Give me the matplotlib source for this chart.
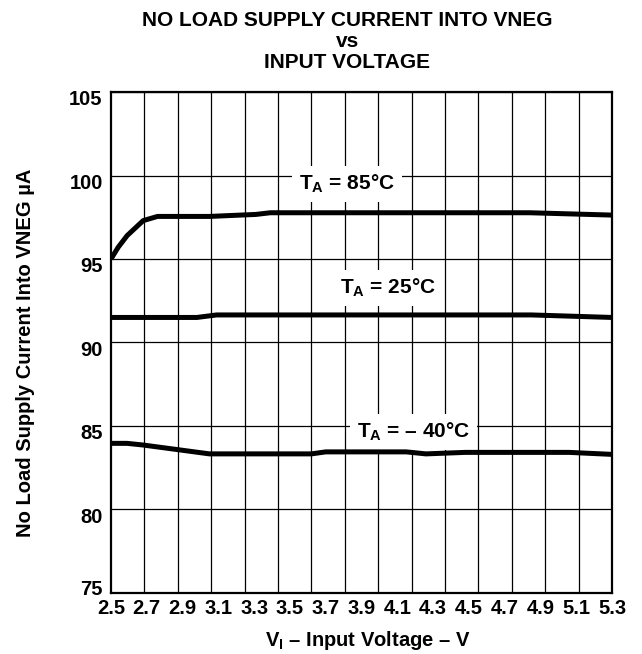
import numpy as np
import matplotlib
matplotlib.use("Agg")
import matplotlib.pyplot as plt
import matplotlib.transforms as mtransforms

plt.rcParams['font.family'] = ['Liberation Sans', 'DejaVu Sans']
plt.rcParams['font.weight'] = 'bold'
plt.rcParams['mathtext.fontset'] = 'custom'
plt.rcParams['mathtext.rm'] = 'Liberation Sans:bold'
plt.rcParams['mathtext.bf'] = 'Liberation Sans:bold'
plt.rcParams['mathtext.it'] = 'Liberation Sans:bold'

# curves
v_85 = [2.5, 2.54, 2.59, 2.68, 2.76, 3.05, 3.31, 3.39, 4.84, 5.3]
i_85 = [95.0, 95.7, 96.4, 97.3, 97.55, 97.55, 97.67, 97.77, 97.77, 97.63]

v_25 = [2.5, 2.98, 3.09, 4.85, 5.3]
i_25 = [91.5, 91.5, 91.65, 91.65, 91.5]

v_m40 = [2.5, 2.59, 2.68, 3.05, 3.62, 3.7, 4.15, 4.26, 4.48, 5.06, 5.3]
i_m40 = [83.96, 83.96, 83.86, 83.33, 83.33, 83.45, 83.45, 83.33, 83.42, 83.42, 83.3]

x_labels = ['2.5', '2.7', '2.9', '3.1', '3.3', '3.5', '3.7', '3.9',
            '4.1', '4.3', '4.5', '4.7', '4.9', '5.1', '5.3']
y_ticks = [75, 80, 85, 90, 95, 100, 105]

curve_labels = [r'$\mathrm{T_A}$ = 85°C', r'$\mathrm{T_A}$ = 25°C', r'$\mathrm{T_A}$ = – 40°C']
label_pos = [(3.82, 99.5), (4.05, 93.25), (4.19, 84.65)]

fig = plt.figure(figsize=(6.42, 6.54), dpi=100)
ax = fig.add_axes([0.1729, 0.0933, 0.7804, 0.766])

xmin, xmax = 2.5, 5.3
ax.set_xlim(xmin, xmax)
ax.set_ylim(75, 105)

# 15 grid divisions, labels spread separately across the axis
ax.set_xticks(np.linspace(xmin, xmax, 16), minor=True)
ax.set_xticks(np.linspace(xmin, xmax, len(x_labels)))
ax.set_xticklabels(x_labels, fontsize=14.5, fontweight='bold')
ax.set_yticks(y_ticks)
ax.set_yticklabels([str(t) for t in y_ticks], fontsize=14.5, fontweight='bold')
ax.tick_params(axis='both', which='both', length=0)
ax.tick_params(axis='x', pad=4)
ax.tick_params(axis='y', pad=6)
ax.grid(True, which='minor', axis='x', color='black', linewidth=0.9)
ax.grid(True, which='major', axis='y', color='black', linewidth=0.9)
for s in ax.spines.values():
    s.set_linewidth(1.6)

# y labels sit a little below their gridline, the bottom one above it
for lab in ax.get_yticklabels():
    dy = 4 / 72 if lab.get_text() == '75' else -4 / 72
    lab.set_transform(lab.get_transform() + mtransforms.ScaledTranslation(0, dy, fig.dpi_scale_trans))

for v, i in [(v_85, i_85), (v_25, i_25), (v_m40, i_m40)]:
    ax.plot(v, i, color='black', linewidth=3.6, solid_capstyle='butt', zorder=5)

for lab, (x, y) in zip(curve_labels, label_pos):
    ax.text(x, y, lab, ha='center', va='center', fontsize=15, fontweight='bold',
            zorder=4, bbox=dict(facecolor='white', edgecolor='none', pad=5))

fig.text(0.573, 0.021, r'$\mathrm{V_I}$ – Input Voltage – V', ha='center', va='center',
         fontsize=14.5, fontweight='bold')
fig.text(0.039, 0.46, 'No Load Supply Current Into VNEG µA', ha='center', va='center',
         rotation=90, fontsize=14.5, fontweight='bold')

fig.text(0.541, 0.968, 'NO LOAD SUPPLY CURRENT INTO VNEG', ha='center', va='center',
         fontsize=15, fontweight='bold')
fig.text(0.541, 0.936, 'vs', ha='center', va='center', fontsize=15, fontweight='bold')
fig.text(0.541, 0.905, 'INPUT VOLTAGE', ha='center', va='center', fontsize=15, fontweight='bold')

fig.savefig('out.png', dpi=100)
